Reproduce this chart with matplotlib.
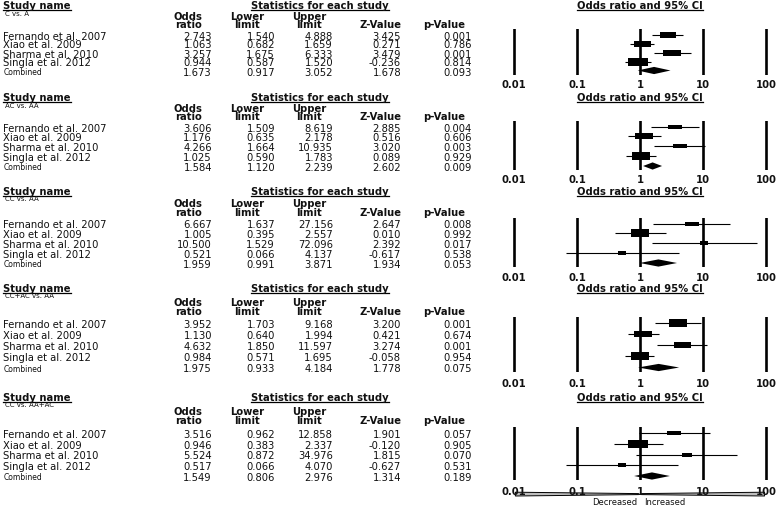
import numpy as np
import matplotlib
matplotlib.use("Agg")
import matplotlib.pyplot as plt
from matplotlib.transforms import Affine2D, blended_transform_factory
from matplotlib.path import Path

# ---------------- data ----------------
comparisons = ["C vs. A", "AC vs. AA", "CC vs. AA", "CC+AC vs. AA", "CC vs. AA+AC"]
studies = ["Fernando et al. 2007", "Xiao et al. 2009", "Sharma et al. 2010",
           "Singla et al. 2012", "Combined"]
odds_ratio = [[2.743, 1.063, 3.257, 0.944, 1.673],
              [3.606, 1.176, 4.266, 1.025, 1.584],
              [6.667, 1.005, 10.500, 0.521, 1.959],
              [3.952, 1.130, 4.632, 0.984, 1.975],
              [3.516, 0.946, 5.524, 0.517, 1.549]]
lower_limit = [[1.540, 0.682, 1.675, 0.587, 0.917],
               [1.509, 0.635, 1.664, 0.590, 1.120],
               [1.637, 0.395, 1.529, 0.066, 0.991],
               [1.703, 0.640, 1.850, 0.571, 0.933],
               [0.962, 0.383, 0.872, 0.066, 0.806]]
upper_limit = [[4.888, 1.659, 6.333, 1.520, 3.052],
               [8.619, 2.178, 10.935, 1.783, 2.239],
               [27.156, 2.557, 72.096, 4.137, 3.871],
               [9.168, 1.994, 11.597, 1.695, 4.184],
               [12.858, 2.337, 34.976, 4.070, 2.976]]
z_value = [[3.425, 0.271, 3.479, -0.236, 1.678],
           [2.885, 0.516, 3.020, 0.089, 2.602],
           [2.647, 0.010, 2.392, -0.617, 1.934],
           [3.200, 0.421, 3.274, -0.058, 1.778],
           [1.901, -0.120, 1.815, -0.627, 1.314]]
p_value = [[0.001, 0.786, 0.001, 0.814, 0.093],
           [0.004, 0.606, 0.003, 0.929, 0.009],
           [0.008, 0.992, 0.017, 0.538, 0.053],
           [0.001, 0.674, 0.001, 0.954, 0.075],
           [0.057, 0.905, 0.070, 0.531, 0.189]]
# relative study weights (box size), estimated from the boxes
study_weight = [[20, 25, 28, 32],
                [15, 28, 15, 31],
                [15, 31, 7, 7],
                [31, 28, 25, 31],
                [15, 35, 9, 6]]
axis_ticks = [0.01, 0.1, 1, 10, 100]
axis_tick_labels = ["0.01", "0.1", "1", "10", "100"]
col_head1 = ["Odds", "Lower", "Upper", "", ""]
col_head2 = ["ratio", "limit", "limit", "Z-Value", "p-Value"]

# ---------------- layout (pixels from top) ----------------
W, H = 782, 510
plt.rcParams['font.family'] = ['DejaVu Sans']
fig = plt.figure(figsize=(W / 100, H / 100), dpi=100)
PX = Affine2D().scale(1 / W, -1 / H).translate(0, 1) + fig.transFigure

title_y = [5, 97, 191, 288, 397]
hdr2_y = [24.5, 116.5, 212.5, 311, 420.5]
row1_y = [35.5, 127.5, 224.5, 324, 434]
comb_y = [71.5, 167, 264, 368.5, 477]
line_top = [30, 122, 219, 318, 428]
tick_y = [85, 180, 278, 384, 492]

num_right = [212, 275, 333, 401, 472]
hdr_center = [188, 247, 309, 381, 444]
FS = 7.2
TXT = '#111111'

x_one = 640.0
decade = 63.0
lim_lo, lim_hi = -2.15, 2.15

underlined = []
for p in range(5):
    t1 = fig.text(3, title_y[p], "Study name", transform=PX, fontsize=FS,
                  fontweight='bold', va='center_baseline', ha='left', color=TXT)
    t2 = fig.text(320, title_y[p], "Statistics for each study", transform=PX,
                  fontsize=FS, fontweight='bold', va='center_baseline', ha='center', color=TXT)
    t3 = fig.text(640, title_y[p], "Odds ratio and 95% CI", transform=PX,
                  fontsize=FS, fontweight='bold', va='center_baseline', ha='center', color=TXT)
    underlined += [t1, t2, t3]
    fig.text(5, title_y[p] + 8, comparisons[p], transform=PX, fontsize=5,
             va='center_baseline', ha='left', color=TXT)
    for c in range(5):
        if col_head1[c]:
            fig.text(hdr_center[c], hdr2_y[p] - 9, col_head1[c], transform=PX,
                     fontsize=FS, fontweight='bold', va='center_baseline', ha='center', color=TXT)
        fig.text(hdr_center[c], hdr2_y[p], col_head2[c], transform=PX,
                 fontsize=FS, fontweight='bold', va='center_baseline', ha='center', color=TXT)

    s = (comb_y[p] - row1_y[p]) / 4.0
    cols = [odds_ratio[p], lower_limit[p], upper_limit[p], z_value[p], p_value[p]]
    for i, name in enumerate(studies):
        y = row1_y[p] + i * s
        if i == 4:
            fig.text(4, y, name, transform=PX, fontsize=5.5, va='center_baseline',
                     ha='left', color=TXT)
        else:
            fig.text(3, y, name, transform=PX, fontsize=FS, va='center_baseline',
                     ha='left', color=TXT)
        for c in range(5):
            fig.text(num_right[c], y, f"{cols[c][i]:.3f}", transform=PX,
                     fontsize=FS, va='center_baseline', ha='right', color=TXT)

    # ---- forest plot axes ----
    bot = comb_y[p] + 4
    top = line_top[p]
    left_px = x_one + decade * lim_lo
    width_px = decade * (lim_hi - lim_lo)
    ax = fig.add_axes([left_px / W, 1 - bot / H, width_px / W, (bot - top) / H])
    ax.set_xscale('log')
    ax.set_xlim(10 ** lim_lo, 10 ** lim_hi)
    ax.set_ylim(4 + (bot - comb_y[p]) / s, -(row1_y[p] - top) / s)
    ax.patch.set_visible(False)
    for sp in ax.spines.values():
        sp.set_visible(False)
    ax.set_yticks([])
    ax.set_xticks(axis_ticks, axis_tick_labels)
    ax.xaxis.set_minor_locator(matplotlib.ticker.NullLocator())
    ax.tick_params(axis='x', length=0, labelsize=7.2, labelcolor=TXT,
                   pad=(tick_y[p] - 5 - bot) * 0.72)
    for lab in ax.get_xticklabels():
        lab.set_fontweight('bold')
    for t in axis_ticks:
        ax.axvline(t, color='black', lw=1.9, zorder=1)
    rect = Path([(-1.35, -0.5), (1.35, -0.5), (1.35, 0.5), (-1.35, 0.5), (-1.35, -0.5)],
                [Path.MOVETO, Path.LINETO, Path.LINETO, Path.LINETO, Path.CLOSEPOLY])
    for i in range(4):
        ax.hlines(i, lower_limit[p][i], upper_limit[p][i], color='black', lw=0.8, zorder=2)
        wpx = 3.4 * np.sqrt(study_weight[p][i])
        ax.plot([odds_ratio[p][i]], [i], marker=rect, markersize=wpx * 0.72,
                color='black', markeredgewidth=0, zorder=3)
    hh = 3.6 / s
    ax.fill([lower_limit[p][4], odds_ratio[p][4], upper_limit[p][4], odds_ratio[p][4]],
            [4, 4 - hh, 4, 4 + hh], color='black', lw=0, zorder=3)

    if p == 4:
        bt = blended_transform_factory(ax.transData, PX)
        ax.fill([0.0105, 0.95, 0.95, 0.0105], [493.2, 494.6, 495.6, 497.0],
                facecolor='#bdbdbd', edgecolor='black', lw=0.7, transform=bt, clip_on=False)
        ax.fill([1.05, 95, 95, 1.05], [494.6, 493.2, 497.0, 495.6],
                facecolor='#bdbdbd', edgecolor='black', lw=0.7, transform=bt, clip_on=False)
        ax.text(0.9, 502, "Decreased", transform=bt, fontsize=6, ha='right',
                va='center_baseline', color=TXT)
        ax.text(1.15, 502, "Increased", transform=bt, fontsize=6, ha='left',
                va='center_baseline', color=TXT)

# underline headers
fig.canvas.draw()
r = fig.canvas.get_renderer()
for t in underlined:
    bb = t.get_window_extent(r)
    yline = H - bb.y0 - 0.5
    fig.add_artist(plt.Line2D([bb.x0, bb.x1], [yline, yline], transform=PX,
                              color='black', lw=0.9))

fig.savefig("out.png", dpi=100)
